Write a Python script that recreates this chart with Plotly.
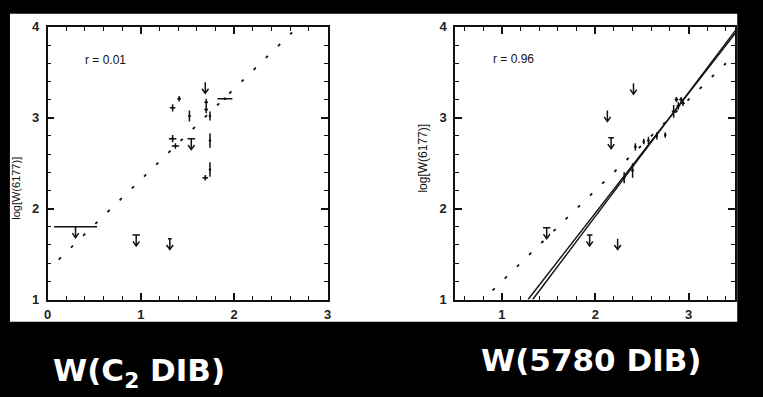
import plotly.graph_objects as go

W, H = 763, 397

# ---------------- data: left panel, W(C2 DIB) ----------------
c2_x    = [1.34, 1.41, 1.52, 1.34, 1.37, 1.70, 1.70, 1.74, 1.74, 1.69, 1.74, 1.90]
c2_y    = [3.11, 3.21, 3.02, 2.77, 2.69, 3.17, 3.09, 3.02, 2.75, 2.34, 2.43, 3.21]
c2_xerr = [0.03, 0.02, 0.01, 0.04, 0.04, 0.02, 0.02, 0.01, 0.01, 0.03, 0.01, 0.08]
c2_yerr = [0.04, 0.03, 0.06, 0.04, 0.03, 0.04, 0.04, 0.05, 0.08, 0.03, 0.08, 0.01]
c2_lim_x    = [0.30, 0.95, 1.31, 1.69, 1.54]
c2_lim_y    = [1.80, 1.71, 1.67, 3.39, 2.77]
c2_lim_xerr = [0.23, 0.04, 0.02, 0.00, 0.04]
c2_fit_x = [0.12, 2.62]
c2_fit_y = [1.44, 3.94]
c2_r = "r = 0.01"

# ---------------- data: right panel, W(5780 DIB) ----------------
d5780_x    = [2.31, 2.40, 2.43, 2.52, 2.57, 2.66, 2.75, 2.84, 2.87, 2.89, 2.92, 2.94]
d5780_y    = [2.34, 2.42, 2.68, 2.74, 2.75, 2.80, 2.81, 3.07, 3.20, 3.13, 3.20, 3.16]
d5780_xerr = [0.01, 0.01, 0.01, 0.01, 0.01, 0.01, 0.01, 0.02, 0.02, 0.02, 0.02, 0.02]
d5780_yerr = [0.06, 0.08, 0.04, 0.03, 0.04, 0.04, 0.03, 0.07, 0.03, 0.04, 0.03, 0.03]
d5780_lim_x    = [1.48, 1.94, 2.24, 2.13, 2.17, 2.41]
d5780_lim_y    = [1.79, 1.71, 1.67, 3.08, 2.78, 3.38]
d5780_lim_xerr = [0.04, 0.03, 0.00, 0.00, 0.03, 0.00]
d5780_fit_x = [0.90, 3.40]
d5780_fit_y = [1.10, 3.60]
d5780_lsq1_x = [1.28, 3.50]
d5780_lsq1_y = [1.00, 3.93]
d5780_lsq2_x = [1.33, 3.50]
d5780_lsq2_y = [1.00, 3.96]
d5780_r = "r = 0.96"

y_title = "log[W(6177)]"
bottom_labels = ["W(C<sub>2</sub> DIB)", "W(5780 DIB)"]

# ---------------- helpers ----------------
ARROW_LEN, HEAD_W, HEAD_H = 0.12, 0.035, 0.05


def limit_path(xs, ys, xes):
    px, py = [], []
    for x, y, xe in zip(xs, ys, xes):
        if xe > 0:
            px += [x - xe, x + xe, None]
            py += [y, y, None]
        px += [x, x, None, x - HEAD_W, x, x + HEAD_W, None]
        py += [y, y - ARROW_LEN, None, y - ARROW_LEN + HEAD_H, y - ARROW_LEN,
               y - ARROW_LEN + HEAD_H, None]
    return px, py


fig = go.Figure()

panels = [
    dict(xa="x", ya="y", x=c2_x, y=c2_y, xe=c2_xerr, ye=c2_yerr,
         lx=c2_lim_x, ly=c2_lim_y, lxe=c2_lim_xerr,
         fx=c2_fit_x, fy=c2_fit_y, solid=[]),
    dict(xa="x2", ya="y2", x=d5780_x, y=d5780_y, xe=d5780_xerr, ye=d5780_yerr,
         lx=d5780_lim_x, ly=d5780_lim_y, lxe=d5780_lim_xerr,
         fx=d5780_fit_x, fy=d5780_fit_y,
         solid=[(d5780_lsq1_x, d5780_lsq1_y), (d5780_lsq2_x, d5780_lsq2_y)]),
]

for p in panels:
    fig.add_trace(go.Scatter(
        x=p["fx"], y=p["fy"], mode="lines", xaxis=p["xa"], yaxis=p["ya"],
        line=dict(color="#111", width=1.8, dash="3px,14px"), showlegend=False,
        hoverinfo="skip"))
    for sx, sy in p["solid"]:
        fig.add_trace(go.Scatter(
            x=sx, y=sy, mode="lines", xaxis=p["xa"], yaxis=p["ya"],
            line=dict(color="#111", width=1.4), showlegend=False, hoverinfo="skip"))
    fig.add_trace(go.Scatter(
        x=p["x"], y=p["y"], mode="markers", xaxis=p["xa"], yaxis=p["ya"],
        marker=dict(size=2.5, color="#111"),
        error_x=dict(type="data", array=p["xe"], color="#111", thickness=1.5, width=0),
        error_y=dict(type="data", array=p["ye"], color="#111", thickness=1.5, width=0),
        showlegend=False))
    lpx, lpy = limit_path(p["lx"], p["ly"], p["lxe"])
    fig.add_trace(go.Scatter(
        x=lpx, y=lpy, mode="lines", xaxis=p["xa"], yaxis=p["ya"],
        line=dict(color="#111", width=1.5), showlegend=False, hoverinfo="skip"))

# ---------------- layout ----------------
y_dom = [(H - 304) / H, (H - 20.7) / H]
axis_common = dict(
    showline=True, linecolor="#111", linewidth=1.6, mirror="ticks",
    ticks="inside", ticklen=7, tickwidth=1.5, tickcolor="#111",
    showgrid=False, zeroline=False,
    tickfont=dict(family="Liberation Sans, Arial", size=13, color="#222", weight="bold"),
    minor=dict(ticks="inside", ticklen=4, tickwidth=1.3, tickcolor="#111", dtick=0.2,
               showgrid=False),
)

fig.update_layout(
    width=W, height=H,
    margin=dict(l=0, r=0, t=0, b=0),
    paper_bgcolor="black", plot_bgcolor="white",
    xaxis=dict(domain=[44 / W, 327 / W], range=[0, 3], dtick=1, anchor="y",
               ticklabelstandoff=2, **axis_common),
    yaxis=dict(domain=y_dom, range=[1, 4], dtick=1, anchor="x",
               ticklabelstandoff=4, **axis_common),
    xaxis2=dict(domain=[456 / W, 739 / W], range=[0.5, 3.5], dtick=1, anchor="y2",
                ticklabelstandoff=2, **axis_common),
    yaxis2=dict(domain=y_dom, range=[1, 4], dtick=1, anchor="x2",
                ticklabelstandoff=4, **axis_common),
    shapes=[dict(type="rect", xref="paper", yref="paper", layer="below",
                 x0=6 / W, x1=741 / W, y0=(H - 327) / H, y1=(H - 7) / H,
                 fillcolor="white", line=dict(width=0))],
)

annotations = [
    dict(text=c2_r, xref="x", yref="y", x=0.38, y=3.64, xanchor="left", yanchor="middle",
         showarrow=False, font=dict(family="Liberation Sans, Arial", size=12, color="#111")),
    dict(text=d5780_r, xref="x2", yref="y2", x=0.88, y=3.65, xanchor="left",
         yanchor="middle", showarrow=False,
         font=dict(family="Liberation Sans, Arial", size=12, color="#111")),
    dict(text=y_title, xref="paper", yref="paper", x=12 / W, y=(H - 188) / H,
         textangle=-90, showarrow=False, xanchor="center", yanchor="middle",
         font=dict(family="Liberation Sans, Arial", size=11, color="#111")),
    dict(text=y_title, xref="paper", yref="paper", x=424 / W, y=(H - 157) / H,
         textangle=-90, showarrow=False, xanchor="center", yanchor="middle",
         font=dict(family="Liberation Sans, Arial", size=12, color="#111")),
    dict(text=bottom_labels[0], xref="paper", yref="paper", x=136 / W, y=(H - 380) / H,
         showarrow=False, xanchor="center", yanchor="middle",
         font=dict(family="DejaVu Sans", size=31, color="white", weight="bold")),
    dict(text=bottom_labels[1], xref="paper", yref="paper", x=594 / W, y=(H - 367) / H,
         showarrow=False, xanchor="center", yanchor="middle",
         font=dict(family="DejaVu Sans", size=31, color="white", weight="bold")),
]
fig.update_layout(annotations=annotations)

fig.write_html("out.html")
